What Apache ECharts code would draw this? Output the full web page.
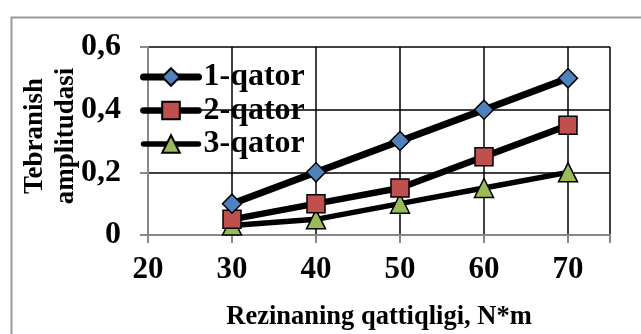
<!DOCTYPE html>
<html>
<head>
<meta charset="utf-8">
<script src="https://cdn.jsdelivr.net/npm/echarts@6/dist/echarts.min.js"></script>
<style>html,body{margin:0;padding:0;background:#fff}#c{width:641px;height:334px}</style>
</head>
<body>
<div id="c"></div>
<script>
var xValues = [30, 40, 50, 60, 70];
var seriesNames = ['1-qator', '2-qator', '3-qator'];
var row1 = [0.1, 0.2, 0.3, 0.4, 0.5];
var row2 = [0.05, 0.1, 0.15, 0.25, 0.35];
var row3 = [0.03, 0.05, 0.1, 0.15, 0.2];
var xTickValues = [20, 30, 40, 50, 60, 70];
var xTickLabels = ['20', '30', '40', '50', '60', '70'];
var yTickValues = [0, 0.2, 0.4, 0.6];
var yTickLabels = ['0', '0,2', '0,4', '0,6'];
var xTitle = 'Rezinaning qattiqligi, N*m';
var yTitle = 'Tebranish\namplitudasi';

function pairs(vals) { return xValues.map(function (x, i) { return [x, vals[i]]; }); }
var FONT = '"Liberation Serif", "Times New Roman", serif';
var colors = ['#4F81BD', '#C0504D', '#9BBB59'];
var symbols = ['diamond', 'rect', 'triangle'];
var sizes = [19, 18, 19];
var widths = [7, 6.5, 5.5];
var datas = [row1, row2, row3];

var chart = echarts.init(document.getElementById('c'), null, {renderer: 'canvas'});
chart.setOption({
  animation: false,
  backgroundColor: '#fff',
  graphic: [{
    type: 'rect', left: 9, top: 15, z: -10, silent: true,
    shape: {x: 0, y: 0, width: 700, height: 400},
    style: {fill: 'none', stroke: '#999', lineWidth: 2}
  }],
  grid: {left: 148, top: 47, right: 31, bottom: 99, containLabel: false, outerBoundsMode: 'none'},
  legend: {
    orient: 'vertical', left: 140, top: 61, padding: 0,
    itemWidth: 55, itemHeight: 22, itemGap: 1.5,
    data: seriesNames,
    lineStyle: {width: 'inherit', cap: 'round'},
    textStyle: {fontFamily: FONT, fontWeight: 'bold', fontSize: 32, color: '#000', lineHeight: 30}
  },
  xAxis: {
    type: 'value', min: 20, max: 75, interval: 10,
    name: xTitle, nameLocation: 'middle', nameGap: 69, nameMoveOverlap: false,
    nameTextStyle: {fontFamily: FONT, fontWeight: 'bold', fontSize: 26.5, color: '#000'},
    axisLine: {show: true, lineStyle: {color: '#888', width: 2}},
    axisTick: {show: true, length: 8, lineStyle: {color: '#888', width: 2}},
    axisLabel: {
      margin: 19, fontFamily: FONT, fontWeight: 'bold', fontSize: 31, color: '#000',
      formatter: function (v) { var i = xTickValues.indexOf(v); return i < 0 ? '' : xTickLabels[i]; }
    },
    splitLine: {show: true, showMinLine: false, lineStyle: {color: '#000', width: 1.5}}
  },
  yAxis: {
    type: 'value', min: 0, max: 0.6, interval: 0.2,
    name: yTitle, nameLocation: 'middle', nameGap: 66, nameRotate: 90, nameMoveOverlap: false,
    nameTextStyle: {fontFamily: FONT, fontWeight: 'bold', fontSize: 27, color: '#000', lineHeight: 31, align: 'center', padding: [0, 0, 0, 10]},
    axisLine: {show: true, lineStyle: {color: '#888', width: 2}},
    axisTick: {show: true, length: 8, lineStyle: {color: '#888', width: 2}},
    axisLabel: {
      margin: 27, fontFamily: FONT, fontWeight: 'bold', fontSize: 32, color: '#000',
      formatter: function (v) {
        for (var i = 0; i < yTickValues.length; i++) { if (Math.abs(yTickValues[i] - v) < 1e-9) return yTickLabels[i]; }
        return '';
      }
    },
    splitLine: {show: true, showMinLine: false, lineStyle: {color: '#000', width: 1.5}}
  },
  series: seriesNames.map(function (n, k) {
    return {
      name: n, type: 'line', data: pairs(datas[k]),
      symbol: symbols[k], symbolSize: sizes[k], showAllSymbol: true,
      z: 10 - k,
      lineStyle: {color: '#000', width: widths[k], cap: 'round', join: 'round'},
      itemStyle: {color: colors[k], borderColor: '#000', borderWidth: 1.5}
    };
  })
});
</script>
</body>
</html>
